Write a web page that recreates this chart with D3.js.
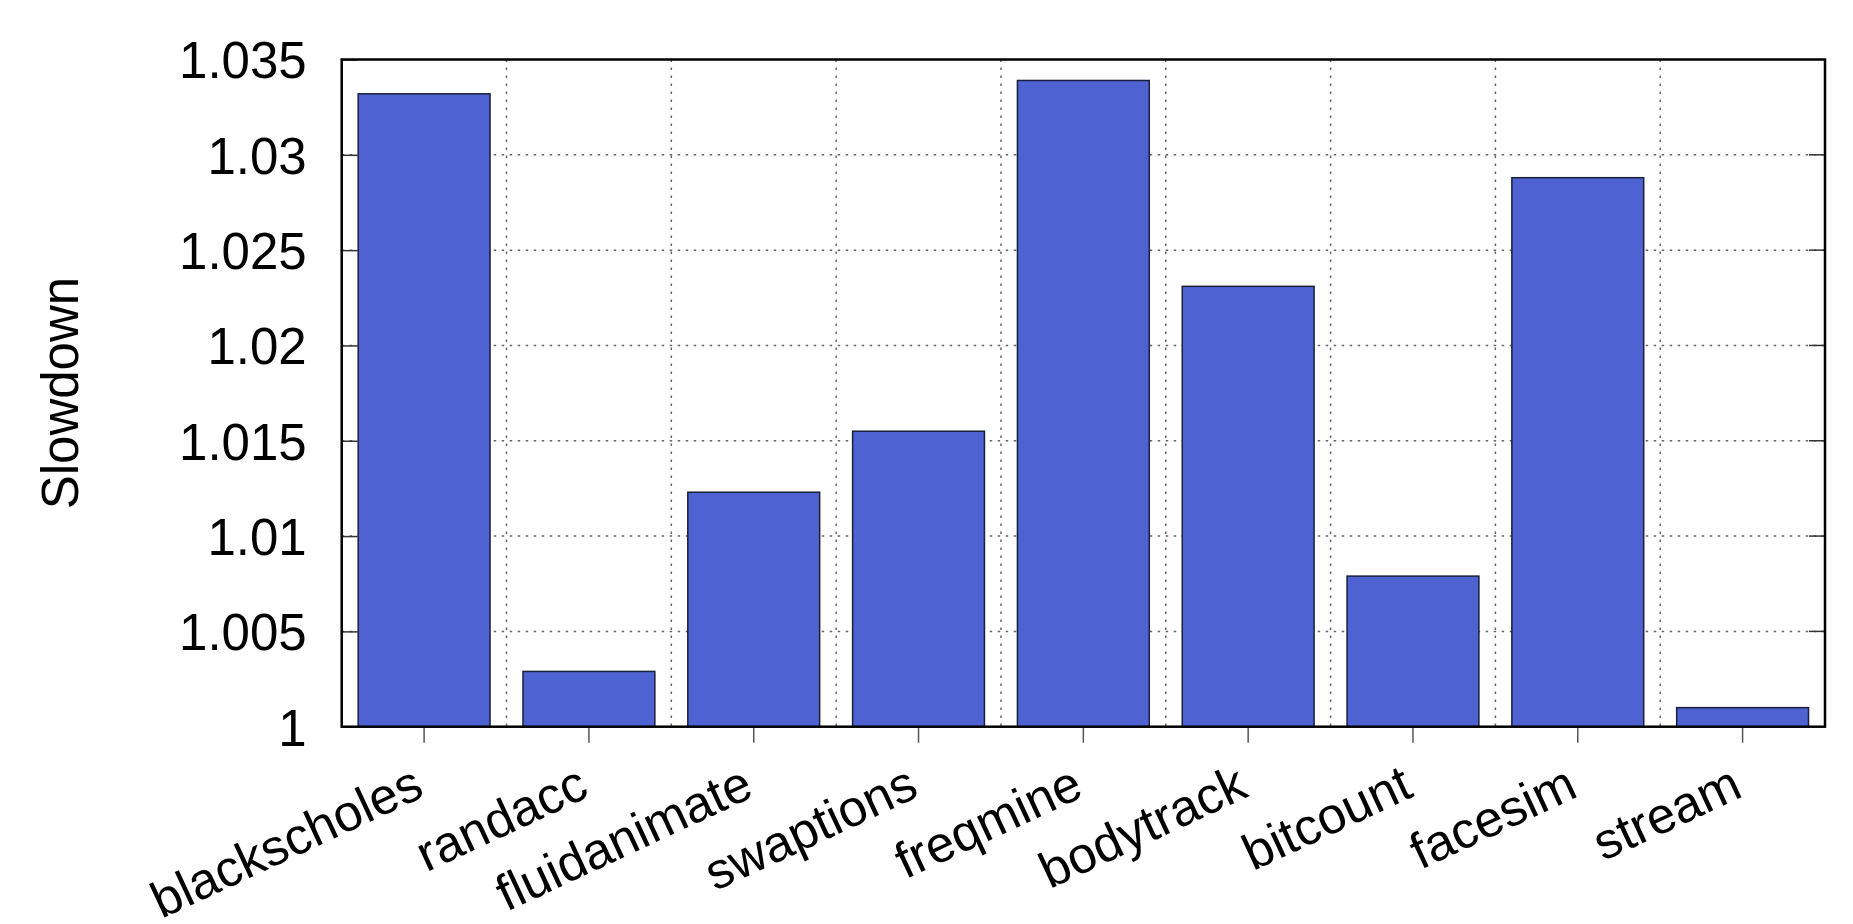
<!DOCTYPE html>
<html>
<head>
<meta charset="utf-8">
<script src="https://cdn.jsdelivr.net/npm/d3@7"></script>
<style>
  html, body { margin: 0; padding: 0; background: #fff; }
  svg { display: block; }
</style>
</head>
<body>
<script>
const benchmarks = ['blackscholes', 'randacc', 'fluidanimate', 'swaptions', 'freqmine', 'bodytrack', 'bitcount', 'facesim', 'stream'];
const slowdown = [1.0332, 1.0029, 1.0123, 1.0155, 1.0339, 1.0231, 1.0079, 1.0288, 1.0010];
const yTicks = [1, 1.005, 1.01, 1.015, 1.02, 1.025, 1.03, 1.035];
const yTickLabels = ['1', '1.005', '1.01', '1.015', '1.02', '1.025', '1.03', '1.035'];

let width = 1853;
let height = 924;
let margin = { top: 59.5, right: 28, bottom: 197.3, left: 341.7 };
let w = width - margin.left - margin.right;
let h = height - margin.top - margin.bottom;

const font = '"Liberation Sans", Arial, Helvetica, sans-serif';

const svg = d3.select('body').append('svg')
    .attr('width', width)
    .attr('height', height)
    .style('font-family', font);

const g = svg.append('g')
    .attr('transform', 'translate(' + margin.left + ',' + margin.top + ')');

let x = d3.scaleBand()
    .domain(benchmarks)
    .range([0, w])
    .paddingInner(0.2)
    .paddingOuter(0.1);

let y = d3.scaleLinear()
    .domain([1, 1.035])
    .range([h, 0]);

// grid lines (dotted), behind the bars
const grid = g.append('g');
grid.selectAll('line.hgrid')
  .data(yTicks.slice(1, -1))
  .join('line')
    .attr('class', 'hgrid')
    .attr('x1', 0).attr('x2', w)
    .attr('y1', d => y(d)).attr('y2', d => y(d))
    .attr('stroke', '#666')
    .attr('stroke-width', 1.5)
    .attr('stroke-dasharray', '2.5,5.5');

grid.selectAll('line.vgrid')
  .data(benchmarks.slice(1))
  .join('line')
    .attr('class', 'vgrid')
    .attr('x1', d => x(d) - x.step() * x.paddingInner() / 2)
    .attr('x2', d => x(d) - x.step() * x.paddingInner() / 2)
    .attr('y1', 0).attr('y2', h)
    .attr('stroke', '#666')
    .attr('stroke-width', 1.5)
    .attr('stroke-dasharray', '2.5,5.5');

// bars
g.selectAll('rect.bar')
  .data(benchmarks.map((b, i) => ({ name: b, value: slowdown[i] })))
  .join('rect')
    .attr('class', 'bar')
    .attr('x', d => x(d.name))
    .attr('width', x.bandwidth())
    .attr('y', d => y(d.value))
    .attr('height', d => h - y(d.value))
    .attr('fill', '#4F62D1')
    .attr('stroke', '#1b1f3a')
    .attr('stroke-width', 1.5);

// y axis, ticks inside
let yAxis = d3.axisLeft(y)
    .tickValues(yTicks)
    .tickFormat((d, i) => yTickLabels[i])
    .tickSize(-16)
    .tickPadding(35);

const ya = g.append('g').call(yAxis);
ya.select('.domain').remove();
ya.selectAll('line').attr('stroke', '#333').attr('stroke-width', 1.5);
ya.selectAll('text')
    .attr('x', -35)
    .attr('dy', '0.36em')
    .style('font-family', font)
    .style('font-size', '51px')
    .attr('fill', '#000');

// mirrored ticks on right side
g.append('g')
    .attr('transform', 'translate(' + w + ',0)')
    .selectAll('line')
    .data(yTicks.slice(1, -1))
    .join('line')
      .attr('x1', -16).attr('x2', 0)
      .attr('y1', d => y(d)).attr('y2', d => y(d))
      .attr('stroke', '#333')
      .attr('stroke-width', 1.5);

// x axis ticks, outside
let xAxis = d3.axisBottom(x).tickSize(16).tickFormat('');
const xa = g.append('g')
    .attr('transform', 'translate(0,' + h + ')')
    .call(xAxis);
xa.select('.domain').remove();
xa.selectAll('line').attr('stroke', '#555').attr('stroke-width', 1.5);

// rotated category labels
g.append('g')
  .selectAll('text')
  .data(benchmarks)
  .join('text')
    .attr('transform', d => 'translate(' + (x(d) + x.bandwidth() / 2 + 2) + ',' + (h + 69) + ') rotate(-25)')
    .attr('text-anchor', 'end')
    .style('font-size', '51px')
    .attr('fill', '#000')
    .text(d => d);

// frame
g.append('rect')
    .attr('x', 0).attr('y', 0)
    .attr('width', w).attr('height', h)
    .attr('fill', 'none')
    .attr('stroke', '#000')
    .attr('stroke-width', 2.5);

// y axis title
svg.append('text')
    .attr('transform', 'translate(78,' + (margin.top + h / 2) + ') rotate(-90)')
    .attr('text-anchor', 'middle')
    .style('font-size', '51px')
    .attr('fill', '#000')
    .text('Slowdown');
</script>
</body>
</html>
